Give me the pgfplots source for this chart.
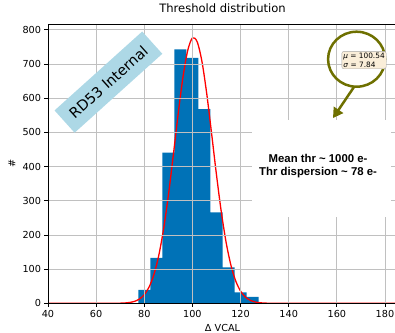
\documentclass[border=0pt]{standalone}
\usepackage{pgfplots}
\pgfplotsset{compat=1.18}
\usepackage{fontspec}
\setmainfont{DejaVu Sans}
\newfontfamily\lib{Liberation Sans}
\usetikzlibrary{arrows.meta}
\definecolor{barblue}{RGB}{0,114,183}
\definecolor{olivec}{RGB}{110,112,0}
\definecolor{wheatl}{RGB}{250,238,217}
\definecolor{lblue}{RGB}{173,216,230}
\definecolor{gridgray}{RGB}{192,192,192}
\begin{document}
\begin{tikzpicture}
\begin{axis}[
 name=ax,
 scale only axis, width=349bp, height=279.3bp,
 xmin=40, xmax=185, ymin=0, ymax=817,
 xtick={40,60,...,180}, ytick={0,100,...,800},
 grid=major, grid style={gridgray, line width=0.8bp},
 axis on top,
 tick align=outside, tick pos=left, major tick length=3.5bp,
 tick style={black, line width=0.8bp},
 axis line style={line width=0.8bp},
 /pgf/number format/assume math mode=true,
 ticklabel style={font=\fontsize{9.7}{11}\selectfont},
 title={Threshold distribution},
 title style={font=\fontsize{11.6}{13}\selectfont, at={(axis description cs:0.5,1)}, anchor=base, yshift=5.7bp},
 xlabel={Δ VCAL}, ylabel={\#},
 label style={font=\fontsize{9.7}{11}\selectfont},
 xlabel style={at={(axis description cs:0.5,0)}, anchor=base, yshift=-28bp},
 ylabel style={at={(axis description cs:-0.1032,0.5)}, anchor=center},
]
\addplot[const plot, fill=barblue, draw=none] coordinates {(77.5,39) (82.5,133) (87.5,441) (92.5,743) (97.5,718) (102.5,568) (107.5,266) (112.5,105) (117.5,32) (122.5,19) (127.5,19)} \closedcycle;
\addplot[red, line width=1.3bp, smooth] coordinates {(40,0) (50,0) (60,0.001) (65,0.03) (70,0.39) (72,1.03) (74,2.53) (76,5.80) (78,12.5) (80,25.2) (82,47.5) (84,84.0) (86,139.3) (88,216.5) (90,315.1) (92,429.8) (94,549.4) (96,657.9) (98,738.2) (100,776.2) (102,764.6) (104,705.8) (106,610.5) (108,494.8) (110,375.7) (112,267.3) (114,178.2) (116,111.3) (118,65.2) (120,35.7) (122,18.4) (124,8.85) (126,3.99) (128,1.69) (130,0.67) (132,0.25) (135,0.05) (140,0) (150,0) (185,0)};
\coordinate (rd) at (axis cs:65.1,647);
\coordinate (ell) at (axis cs:168.2,714);
\coordinate (arS) at (axis cs:167.1,632.5);
\coordinate (arE) at (axis cs:158.4,541.8);
\coordinate (lab) at (axis cs:171.3,711.4);
\coordinate (wb) at (axis cs:153.6,394);
\coordinate (txt) at (axis cs:152.2,401.5);
\end{axis}
\node[fill=white, minimum width=139bp, minimum height=97bp, inner sep=0] at (wb) {};
\node[align=center, inner sep=0, font=\lib\bfseries\fontsize{11.4}{13.7}\selectfont] at (txt) {Mean thr \textasciitilde{} 1000 e-\\Thr dispersion \textasciitilde{} 78 e-};
\node[fill=lblue, rotate=42, minimum width=118bp, minimum height=30bp, inner sep=0, font=\fontsize{14.5}{17}\selectfont] at (rd) {RD53 Internal};
\draw[olivec, line width=2.5bp] (ell) ellipse [x radius=28.5bp, y radius=27.5bp];
\node[fill=wheatl, draw=gray!70, rounded corners=2bp, align=left, inner sep=1.5bp, font=\fontsize{7.4}{8.8}\selectfont] at (lab) {\textit{μ} = 100.54\\\textit{σ} = 7.84};
\draw[olivec, line width=2.5bp, -{Triangle[length=10bp,width=11bp]}] (arS) -- (arE);
\pgfresetboundingbox
\path ([shift={(-48bp,-29.7bp)}]ax.south west) rectangle ([shift={(-2bp,24bp)}]ax.north east);
\end{tikzpicture}
\end{document}
